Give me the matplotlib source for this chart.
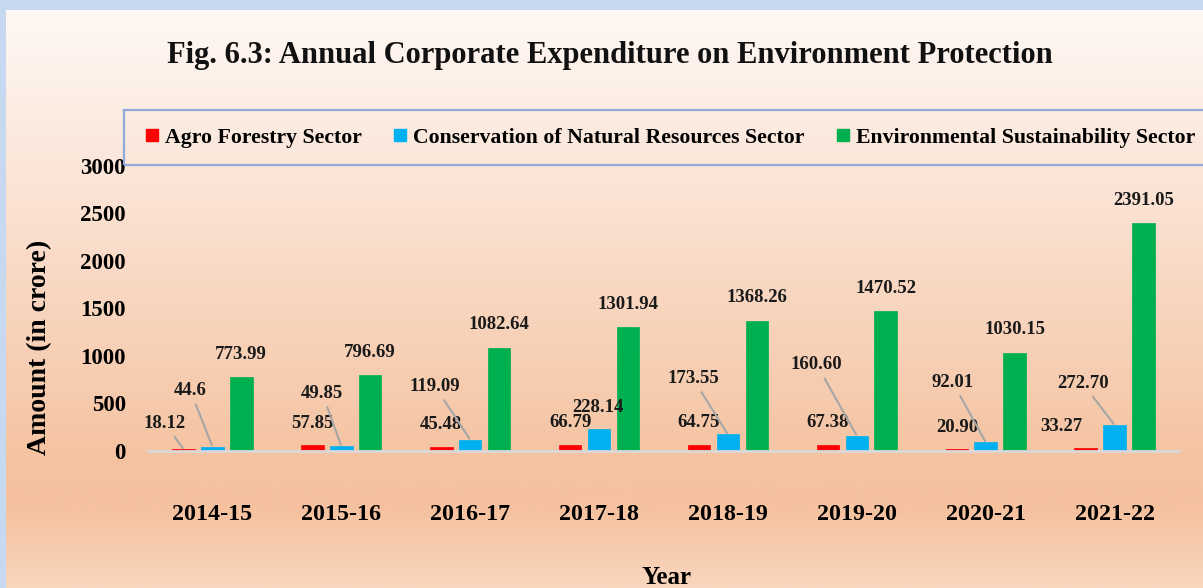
import numpy as np
import matplotlib
matplotlib.use("Agg")
import matplotlib.pyplot as plt
from matplotlib.colors import LinearSegmentedColormap
from matplotlib.lines import Line2D
from matplotlib.patches import Rectangle

# ---------------- data ----------------
years = ["2014-15", "2015-16", "2016-17", "2017-18", "2018-19", "2019-20", "2020-21", "2021-22"]
agro = [18.12, 57.85, 45.48, 66.79, 64.75, 67.38, 20.90, 33.27]
agro_lbl = ["18.12", "57.85", "45.48", "66.79", "64.75", "67.38", "20.90", "33.27"]
conservation = [44.6, 49.85, 119.09, 228.14, 173.55, 160.60, 92.01, 272.70]
cons_lbl = ["44.6", "49.85", "119.09", "228.14", "173.55", "160.60", "92.01", "272.70"]
environment = [773.99, 796.69, 1082.64, 1301.94, 1368.26, 1470.52, 1030.15, 2391.05]
env_lbl = ["773.99", "796.69", "1082.64", "1301.94", "1368.26", "1470.52", "1030.15", "2391.05"]
series_names = ["Agro Forestry Sector", "Conservation of Natural Resources Sector",
                "Environmental Sustainability Sector"]
yticks = [0, 500, 1000, 1500, 2000, 2500, 3000]

# label offsets (pixels) relative to bar top centre, and leader flags
agro_off = [(-19, 26), (0, 22), (0, 22), (0, 22), (-1, 22), (0, 22), (0, 22), (-24, 21)]
agro_lead = [True, False, False, False, False, False, False, False]
cons_off = [(-22, 56), (-19, 53), (-35, 53), (-1, 22), (-35, 56), (-40, 71), (-33, 60), (-32, 42)]
cons_lead = [True, True, True, False, True, True, True, True]
env_off = [(0, 23)] * 8

colors = ["#ff0000", "#00b0f0", "#00b050"]
FONT = "Liberation Serif"

W, H = 1203, 588
fig = plt.figure(figsize=(W / 100, H / 100), dpi=100)
fig.patch.set_facecolor("#c6d9f0")

# background gradient
bg = fig.add_axes([6 / W, 0, 1 - 6 / W, (H - 10) / H], zorder=-10)
cmap = LinearSegmentedColormap.from_list(
    "bg", [(0.0, "#fef8f4"), (0.3, "#fbe4d6"), (0.78, "#f5c3a1"), (0.86, "#f5c19e"), (1.0, "#f9d6bd")])
grad = np.linspace(0, 1, 256).reshape(-1, 1)
bg.imshow(grad, aspect="auto", cmap=cmap, extent=[0, 1, 0, 1], origin="upper")
bg.set_axis_off()

# main axes
x0, x1 = 148, 1179
ytop, ybot = 165.5, 451
ax = fig.add_axes([x0 / W, (H - ybot) / H, (x1 - x0) / W, (ybot - ytop) / H])
ax.patch.set_alpha(0)
ax.set_xlim(-0.5, len(years) - 0.5)
ax.set_ylim(0, 3000)

x = np.arange(len(years))
bw = 0.175
off = 0.224
for i, (vals, c) in enumerate(zip([agro, conservation, environment], colors)):
    ax.bar(x + (i - 1) * off, vals, width=bw, color=c, edgecolor=c, linewidth=0.5, zorder=3)

for spine in ["top", "right", "left"]:
    ax.spines[spine].set_visible(False)
ax.spines["bottom"].set_color("#d9d9d9")
ax.spines["bottom"].set_linewidth(2)
ax.spines["bottom"].set_zorder(4)

ax.set_yticks(yticks)
ax.set_yticklabels([str(t) for t in yticks], fontfamily=FONT, fontweight="bold", fontsize=16.5)
ax.set_xticks(x)
ax.set_xticklabels(years, fontfamily=FONT, fontweight="bold", fontsize=17.3)
ax.tick_params(axis="y", length=0, pad=16)
ax.tick_params(axis="x", length=0, pad=38)

ax.set_xlabel("Year", fontfamily=FONT, fontweight="bold", fontsize=18)
ax.xaxis.set_label_coords((667 - x0) / (x1 - x0), (ybot - 566) / (ybot - ytop))
ax.set_ylabel("Amount (in crore)", fontfamily=FONT, fontweight="bold", fontsize=20)
ax.yaxis.set_label_coords((52 - x0) / (x1 - x0), (ybot - 347) / (ybot - ytop))

def label_bars(vals, labels, offs, leads, xs):
    for v, lab, (dx, dy), lead, xc in zip(vals, labels, offs, leads, xs):
        kw = {}
        if lead:
            kw["arrowprops"] = dict(arrowstyle="-", color="#a6a6a6", lw=1.5,
                                    shrinkA=2, shrinkB=1)
        ax.annotate(lab, xy=(xc, v), xytext=(dx, dy), textcoords="offset pixels",
                    ha="center", va="center", fontfamily=FONT, fontweight="bold",
                    fontsize=13.5, color="#1a1a1a", zorder=5, **kw)

label_bars(agro, agro_lbl, agro_off, agro_lead, x - off)
label_bars(conservation, cons_lbl, cons_off, cons_lead, x)
label_bars(environment, env_lbl, env_off, [False] * 8, x + off)

# title
fig.text(610 / W, 1 - 56 / H, "Fig. 6.3: Annual Corporate Expenditure on Environment Protection",
         ha="center", va="center", fontfamily=FONT, fontweight="bold", fontsize=22, color="#111111")

# legend box
lx0, lx1, ly0, ly1 = 124, 1204, 110, 165
fig.patches.append(Rectangle((lx0 / W, 1 - ly1 / H), (lx1 - lx0) / W, (ly1 - ly0) / H,
                             transform=fig.transFigure, facecolor="none",
                             edgecolor="#8eaadb", linewidth=1.6, zorder=6))
handles = [Line2D([], [], marker="s", linestyle="none", markersize=8.5,
                  markerfacecolor=c, markeredgecolor=c) for c in colors]
fig.legend(handles, series_names, loc="center", ncol=3, mode="expand",
           bbox_to_anchor=(143 / W, 1 - ly1 / H, (1195 - 143) / W, (ly1 - ly0) / H),
           frameon=False, borderaxespad=0, borderpad=0.0, handlelength=0.8,
           handletextpad=0.2, columnspacing=0.8,
           prop=dict(family=FONT, weight="bold", size=15.7))

fig.savefig("out.png", dpi=100)
